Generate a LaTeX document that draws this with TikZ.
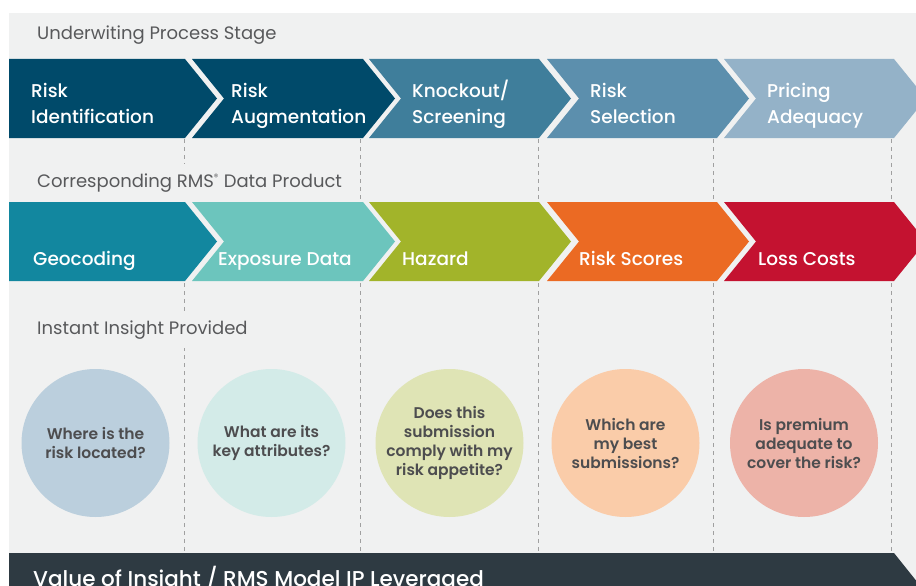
\documentclass[tikz,border=0pt]{standalone}
\usepackage{fontspec}
\setmainfont{Poppins}[BoldFont={Poppins Medium}]
\newfontfamily\semifont{Poppins SemiBold}
\definecolor{bggray}{HTML}{F0F1F1}
\definecolor{headgray}{HTML}{58595B}
\definecolor{qgray}{HTML}{4D4D4F}
\definecolor{dashgray}{HTML}{A0A0A0}
\definecolor{bardark}{HTML}{2E3A42}
\definecolor{stageA}{HTML}{004A6A}
\definecolor{stageC}{HTML}{3F7E9B}
\definecolor{stageD}{HTML}{5C8FAD}
\definecolor{stageE}{HTML}{94B2C8}
\definecolor{prodA}{HTML}{12879F}
\definecolor{prodB}{HTML}{6CC5BD}
\definecolor{prodC}{HTML}{A2B42A}
\definecolor{prodD}{HTML}{EB6A23}
\definecolor{prodE}{HTML}{C41230}
\definecolor{askA}{HTML}{BBCFDD}
\definecolor{askB}{HTML}{D3EBE8}
\definecolor{askC}{HTML}{DFE4B5}
\definecolor{askD}{HTML}{FACCA9}
\definecolor{askE}{HTML}{EDB3A8}
% chevron: colour, left x, right x, top y, notch depth
\def\chevron[#1](#2:#3:#4:#5){\fill[#1] (#2,#4) -- (#3,#4) -- ({#3+32},{#4+39.5}) -- (#3,{#4+79}) -- (#2,{#4+79}) -- ({#2+#5},{#4+39.5}) -- cycle;}
\tikzset{
  header/.style={anchor=base west, text=headgray, font=\fontsize{18}{22}\selectfont, fill=bggray, inner xsep=2pt, inner ysep=9pt},
  stagetext/.style={anchor=base west, text=white, align=left, font=\bfseries\fontsize{18.5}{26}\selectfont, inner sep=0pt},
  prodtext/.style={anchor=base west, text=white, font=\bfseries\fontsize{18.5}{22}\selectfont, inner sep=0pt},
  insight/.style={circle, minimum size=148pt, inner sep=0pt, align=center, text=qgray, font=\semifont\fontsize{15.5}{19}\selectfont},
  guide/.style={draw=dashgray, line width=1pt, dash pattern=on 4pt off 4pt}
}
\begin{document}
\begin{tikzpicture}[x=1pt, y=-1pt]
			%%%%% START %%%%%
			\useasboundingbox (0,0) rectangle (916,586);
			\clip (0,0) rectangle (916,586);
			\fill[white] (0,0) rectangle (916,586);
			\fill[bggray] (9,13) rectangle (916,586);
			
			\foreach \gx in {184,360,538,713,891}
				\draw[guide] (\gx,139) -- (\gx,553);
			
			\node[header] (stagehead) at (35,40) {Underwiting Process Stage};
			\node[header] (prodhead) at (35,187) {Corresponding RMS\textsuperscript{\fontsize{9}{9}\selectfont\textregistered} Data Product};
			\node[header] (askhead) at (35,334) {Instant Insight Provided};
			
			%%%%% PROCESS STAGES %%%%%
			\chevron[stageA](9:185:59:0)
			\chevron[stageA](192:363:59:32)
			\chevron[stageC](369:539:59:32)
			\chevron[stageD](547:717:59:32)
			\chevron[stageE](724:894:59:32)
			
			\node[stagetext] (identify) at (31,124) {Risk\\Identification};
			\node[stagetext] (augment) at (231,124) {Risk\\Augmentation};
			\node[stagetext] (knockout) at (412,124) {Knockout/\\Screening};
			\node[stagetext] (select) at (590,124) {Risk\\Selection};
			\node[stagetext] (pricing) at (767,124) {Pricing\\Adequacy};
			
			%%%%% DATA PRODUCTS %%%%%
			\chevron[prodA](9:185:202:0)
			\chevron[prodB](192:363:202:32)
			\chevron[prodC](369:539:202:32)
			\chevron[prodD](547:717:202:32)
			\chevron[prodE](724:894:202:32)
			
			\node[prodtext] (geocode) at (33,265) {Geocoding};
			\node[prodtext] (exposure) at (218,265) {Exposure Data};
			\node[prodtext] (hazard) at (402,265) {Hazard};
			\node[prodtext] (scores) at (579,265) {Risk Scores};
			\node[prodtext] (losses) at (758,265) {Loss Costs};
			
			%%%%% INSIGHTS %%%%%
			\node[insight, fill=askA] (where) at (95.5,443) {Where is the\\risk located?};
			\node[insight, fill=askB] (what) at (271.5,443) {What are its\\key attributes?};
			\node[insight, fill=askC] (comply) at (449.5,443) {Does this\\submission\\comply with my\\risk appetite?};
			\node[insight, fill=askD] (best) at (625.5,443) {Which are\\my best\\submissions?};
			\node[insight, fill=askE] (premium) at (804,443) {Is premium\\adequate to\\cover the risk?};
			
			%%%%% VALUE BAR %%%%%
			\fill[bardark] (9,553) -- (894,553) -- (926,593) -- (894,633) -- (9,633) -- cycle;
			\node[anchor=base west, text=white, inner sep=0pt, font=\bfseries\fontsize{21.5}{24}\selectfont] (valuebar) at (33,586) {Value of Insight / RMS Model IP Leveraged};
			%%%%% END %%%%%
\end{tikzpicture}
\end{document}
